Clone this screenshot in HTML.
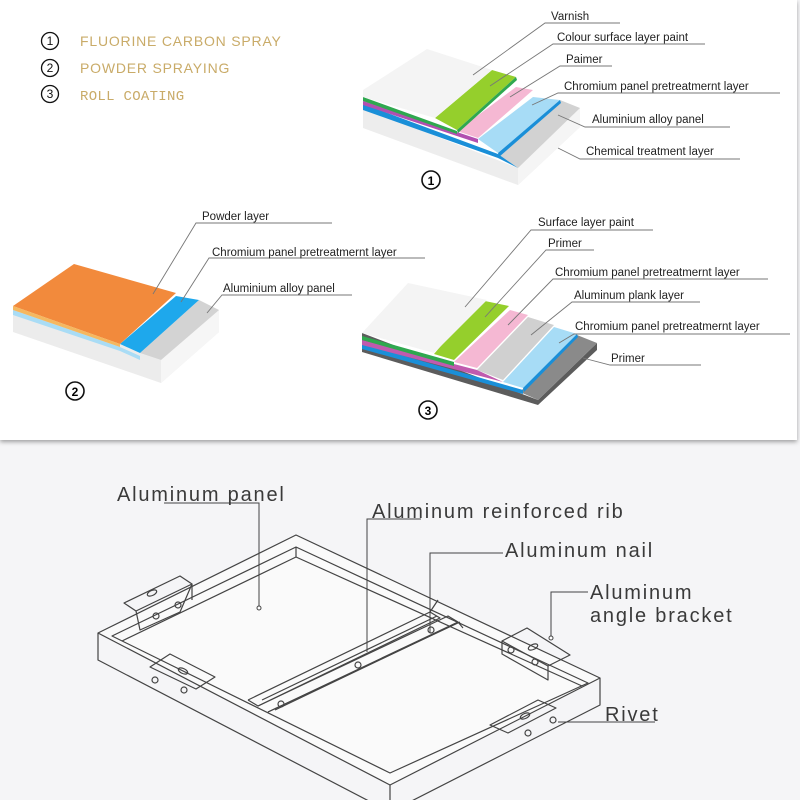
<!DOCTYPE html>
<html><head><meta charset="utf-8"><style>
html,body{margin:0;padding:0;width:800px;height:800px;overflow:hidden;background:#f5f5f7}
svg{display:block}
.t{font-family:"Liberation Sans",sans-serif;font-size:11.5px;fill:#222}
.b{font-family:"Liberation Sans",sans-serif;font-size:20px;fill:#3a3a3a;letter-spacing:1.8px}
.lg{font-family:"Liberation Sans",sans-serif;font-size:14px;fill:#c9ab68;letter-spacing:0.8px}
</style></head><body>
<svg width="800" height="800" viewBox="0 0 800 800" xmlns="http://www.w3.org/2000/svg">
<defs><filter id="sh" x="-5%" y="-5%" width="110%" height="115%"><feDropShadow dx="0" dy="2" stdDeviation="2" flood-color="#000" flood-opacity="0.35"/></filter></defs>
<rect x="0" y="0" width="797" height="440" fill="#fff" filter="url(#sh)"/>

<!-- legend -->
<g fill="none" stroke="#111" stroke-width="1.3">
<circle cx="50" cy="41" r="8.5"/><circle cx="50" cy="68" r="8.5"/><circle cx="50" cy="94" r="8.5"/></g>
<g font-family="Liberation Sans,sans-serif" font-size="12" text-anchor="middle" fill="#111">
<text x="50" y="45">1</text><text x="50" y="72">2</text><text x="50" y="98">3</text></g>
<text class="lg" x="80" y="46">FLUORINE CARBON SPRAY</text>
<text class="lg" x="80" y="73">POWDER SPRAYING</text>
<text class="lg" x="80" y="100" style="font-family:'Liberation Mono',monospace;font-size:14px;letter-spacing:0.3px">ROLL COATING</text>

<!-- diagram 1 -->
<polygon points="363,108 518,168 580,108 580,127 518,185 363,128" fill="#ededed"/>
<polygon points="518,168 580,108 580,127 518,185" fill="#f5f5f5"/>
<polygon points="498,154 560,100 580,108 518,168" fill="#d2d2d2"/>
<polygon points="363,104 498,154 518,168 498,158 363,110" fill="#1a8fd8"/>
<polygon points="478,139 533,97 560,100 498,153" fill="#a7dcf6"/>
<polygon points="498,153 560,100 561,103 499,157" fill="#1a8fd8"/>
<polygon points="363,101 478,139 478,143 363,105" fill="#b24fb0"/>
<polygon points="457,131 516,87 533,90 478,138" fill="#f5b8d3"/>
<polygon points="363,97 457,131 457,134 363,101" fill="#2fa84f"/>
<polygon points="435,118 492,70 516,77 457,130" fill="#95cf2c"/>
<polygon points="457,130 516,77 517,80 458,133" fill="#2fa84f"/>
<polygon points="363,90 427,49 492,70 435,118 363,97" fill="#f4f4f4"/>
<circle cx="431" cy="180" r="9" fill="none" stroke="#111" stroke-width="1.6"/>
<text x="431" y="185" text-anchor="middle" font-family="Liberation Sans,sans-serif" font-weight="bold" font-size="12">1</text>
<g stroke="#777" stroke-width="0.9" fill="none">
<polyline points="473,75 545,23 620,23"/>
<polyline points="490,86 553,44 705,44"/>
<polyline points="510,97 560,66 612,66"/>
<polyline points="532,105 558,93 780,93"/>
<polyline points="558,115 585,127 730,127"/>
<polyline points="558,148 580,159 740,159"/>
</g>
<text class="t" x="551" y="20">Varnish</text>
<text class="t" x="557" y="41">Colour surface layer paint</text>
<text class="t" x="566" y="63">Paimer</text>
<text class="t" x="564" y="90">Chromium panel pretreatmernt layer</text>
<text class="t" x="592" y="123">Aluminium alloy panel</text>
<text class="t" x="586" y="155">Chemical treatment layer</text>

<!-- diagram 2 -->
<polygon points="13,306 120,344 140,353 161,360 219,310 219,332 161,383 13,332" fill="#ececec"/>
<polygon points="161,360 219,310 219,332 161,383" fill="#f6f6f6"/>
<polygon points="140,353 199,300 219,310 161,360" fill="#d3d3d3"/>
<polygon points="13,310 120,347 140,356 140,360 120,351 13,315" fill="#a9dcf5"/>
<polygon points="120,344 176,296 199,300 140,353" fill="#1ea8ec"/>
<polygon points="13,306 74,264 176,293 120,344" fill="#f28a3c"/>
<polygon points="13,306 120,344 120,347 13,310" fill="#f5b860"/>
<circle cx="75" cy="391" r="9" fill="none" stroke="#111" stroke-width="1.6"/>
<text x="75" y="396" text-anchor="middle" font-family="Liberation Sans,sans-serif" font-weight="bold" font-size="12">2</text>
<g stroke="#777" stroke-width="0.9" fill="none">
<polyline points="153,294 196,223 332,223"/>
<polyline points="181,302 209,258 425,258"/>
<polyline points="207,313 222,295 352,295"/>
</g>
<text class="t" x="202" y="220">Powder layer</text>
<text class="t" x="212" y="256">Chromium panel pretreatmernt layer</text>
<text class="t" x="223" y="292">Aluminium alloy panel</text>

<!-- diagram 3 -->
<polygon points="362,333 538,400 597,343 597,350 538,405 362,352" fill="#5c5c5c"/>
<polygon points="520,392 577,335 597,343 538,400" fill="#8a8a8a"/>
<polygon points="362,344 523,390 523,394 362,349" fill="#1a8fd8"/>
<polygon points="503,382 554,327 577,334 523,388" fill="#a7dcf6"/>
<polygon points="523,388 577,334 578,337 524,392" fill="#1a8fd8"/>
<polygon points="477,370 528,317 554,325 503,380" fill="#d0d0d0"/>
<polygon points="362,340 477,370 503,382 362,345" fill="#c05aae"/>
<polygon points="454,362 510,310 528,315 477,368" fill="#f5b8d3"/>
<polygon points="362,336 454,362 454,366 362,340" fill="#2fa84f"/>
<polygon points="434,354 480,300 509,306 454,360" fill="#95cf2c"/>
<polygon points="362,333 408,283 487,300 434,353" fill="#f4f4f4"/>
<circle cx="428" cy="410" r="9" fill="none" stroke="#111" stroke-width="1.6"/>
<text x="428" y="415" text-anchor="middle" font-family="Liberation Sans,sans-serif" font-weight="bold" font-size="12">3</text>
<g stroke="#777" stroke-width="0.9" fill="none">
<polyline points="465,307 531,230 653,230"/>
<polyline points="485,317 546,250 594,250"/>
<polyline points="508,325 553,279 768,279"/>
<polyline points="531,335 572,302 700,302"/>
<polyline points="559,343 574,334 790,334"/>
<polyline points="583,358 610,365 701,365"/>
</g>
<text class="t" x="538" y="226">Surface layer paint</text>
<text class="t" x="548" y="247">Primer</text>
<text class="t" x="555" y="276">Chromium panel pretreatmernt layer</text>
<text class="t" x="574" y="299">Aluminum plank layer</text>
<text class="t" x="575" y="330">Chromium panel pretreatmernt layer</text>
<text class="t" x="611" y="362">Primer</text>

<!-- bottom frame drawing -->
<g stroke="#444" stroke-width="1.2" fill="none" stroke-linejoin="round">
<polygon points="296,535 600,678 390,785 98,633" fill="#fafafa"/>
<polygon points="296,547 588,683 390,773 112,636"/>
<line x1="296" y1="547" x2="296" y2="557"/>
<line x1="296" y1="557" x2="122" y2="641"/>
<line x1="296" y1="557" x2="582" y2="686"/>
<polyline points="98,633 98,660 390,812 600,705 600,678"/>
<line x1="390" y1="785" x2="390" y2="812"/>
<!-- rib -->
<polyline points="248,700 430,612 440,618 258,706 248,700"/>
<polyline points="258,706 448,616 458,622 268,712"/>
<polyline points="268,712 460,622"/>
<line x1="262" y1="700" x2="437" y2="616"/>
<line x1="275" y1="710" x2="455" y2="624"/>
<line x1="430" y1="612" x2="438" y2="600"/>
<line x1="458" y1="622" x2="463" y2="628"/>
<!-- brackets -->
<polygon points="124,603 180,576 192,584 136,611"/>
<polyline points="136,611 140,630 180,612 192,584 192,600"/>
<ellipse cx="152" cy="593" rx="5" ry="2.5" transform="rotate(-25 152 593)"/>
<circle cx="156" cy="616" r="3"/><circle cx="178" cy="605" r="3"/>
<polygon points="150,667 170,654 215,677 196,689"/>
<ellipse cx="183" cy="671" rx="5" ry="2.5" transform="rotate(25 183 671)"/>
<circle cx="155" cy="680" r="3"/><circle cx="184" cy="690" r="3"/>
<polygon points="502,641 527,628 570,655 548,666"/>
<polyline points="502,641 502,654 548,680 548,666"/>
<ellipse cx="533" cy="647" rx="5" ry="2.5" transform="rotate(-25 533 647)"/>
<circle cx="511" cy="650" r="3"/><circle cx="535" cy="662" r="3"/>
<polygon points="490,725 538,700 556,708 508,733"/>
<ellipse cx="525" cy="716" rx="5" ry="2.5" transform="rotate(-25 525 716)"/>
<circle cx="528" cy="733" r="3"/><circle cx="553" cy="720" r="3"/>
<circle cx="281" cy="704" r="3"/><circle cx="358" cy="665" r="3"/><circle cx="431" cy="630" r="3"/>
</g>
<g stroke="#444" stroke-width="1" fill="none">
<polyline points="164,503 259,503 259,606"/>
<circle cx="259" cy="608" r="2" fill="#fff"/>
<polyline points="421,519 367,519 367,652"/>
<polyline points="503,553 430,553 430,633"/>
<polyline points="588,592 551,592 551,636"/>
<circle cx="551" cy="638" r="2" fill="#fff"/>
<polyline points="558,722 570,722 655,722"/>
</g>
<text class="b" x="117" y="501">Aluminum panel</text>
<text class="b" x="372" y="518">Aluminum reinforced rib</text>
<text class="b" x="505" y="557">Aluminum nail</text>
<text class="b" x="590" y="599">Aluminum</text>
<text class="b" x="590" y="622">angle bracket</text>
<text class="b" x="605" y="721">Rivet</text>
</svg>
</body></html>
